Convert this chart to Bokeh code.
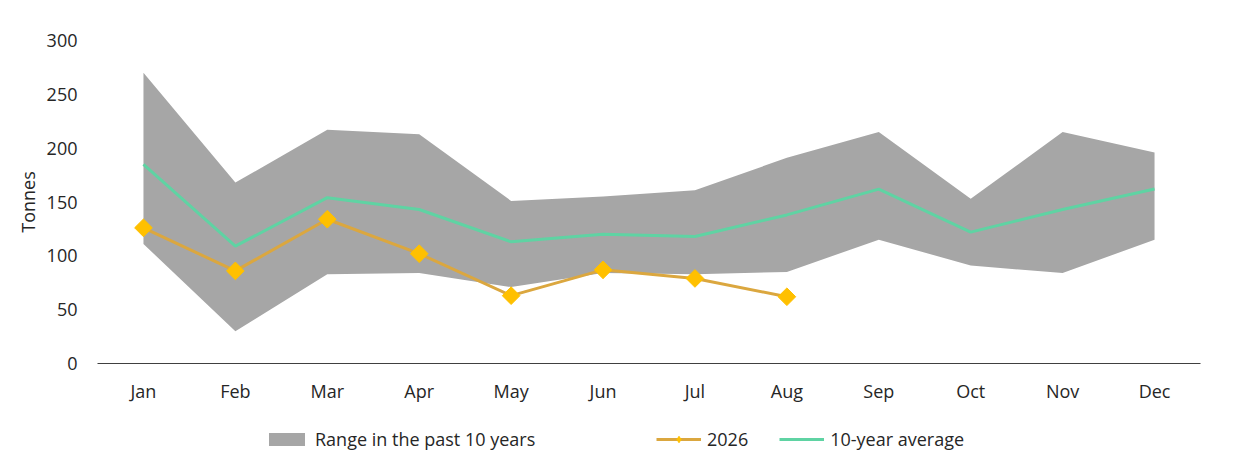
from bokeh.plotting import figure
from bokeh.models import ColumnDataSource, Legend, LegendItem, FactorRange, Range1d
from bokeh.layouts import column
from bokeh.embed import file_html
from bokeh.resources import INLINE
import numpy as np

months = ["Jan", "Feb", "Mar", "Apr", "May", "Jun", "Jul", "Aug", "Sep", "Oct", "Nov", "Dec"]
range_upper = [270, 168, 217, 213, 151, 155, 161, 191, 215, 153, 215, 196]
range_lower = [111, 30, 83, 84, 71, 84, 83, 85, 115, 91, 84, 115]
avg10 = [185, 109, 154, 143, 113, 120, 118, 138, 162, 122, 143, 162]
months_2026 = months[:8]
vals_2026 = [126, 86, 134, 102, 63, 87, 79, 62]
y_ticks = [0, 50, 100, 150, 200, 250, 300]

FONT = "Open Sans"
TXT = "#262626"
FS = "18px"
GREY = "#a6a6a6"
GREEN = "#5fd3a3"
ORANGE_LINE = "#dba73f"
ORANGE_MARK = "#ffc000"

src = ColumnDataSource(dict(x=months, lo=range_lower, hi=range_upper, avg=avg10))
src26 = ColumnDataSource(dict(x=months_2026, y=vals_2026))

p = figure(width=1225, height=410, x_range=FactorRange(*months), y_range=(0, 300),
           output_backend="svg", toolbar_location=None,
           min_border_left=97, min_border_right=25, min_border_top=40, min_border_bottom=47)
p.frame_width = 1103
p.frame_height = 323

p.varea(x="x", y1="lo", y2="hi", source=src, fill_color=GREY)
p.line(x="x", y="avg", source=src, line_color=GREEN, line_width=3)
p.line(x="x", y="y", source=src26, line_color=ORANGE_LINE, line_width=3)
p.scatter(x="x", y="y", source=src26, marker="square", angle=np.pi / 4, size=12.5,
          fill_color=ORANGE_MARK, line_color=ORANGE_MARK)

p.grid.visible = False
p.outline_line_color = None

p.xaxis.axis_line_color = "#404040"
p.xaxis.axis_line_width = 1.2
p.xaxis.major_tick_line_color = None
p.xaxis.minor_tick_line_color = None
p.xaxis.major_label_standoff = 9
p.xaxis.major_label_text_font = FONT
p.xaxis.major_label_text_font_size = FS
p.xaxis.major_label_text_color = TXT

p.yaxis.ticker = y_ticks
p.yaxis.axis_line_color = None
p.yaxis.major_tick_line_color = None
p.yaxis.minor_tick_line_color = None
p.yaxis.major_label_standoff = 14
p.yaxis.major_label_text_font = FONT
p.yaxis.major_label_text_font_size = FS
p.yaxis.major_label_text_color = TXT
p.yaxis.axis_label = "Tonnes"
p.yaxis.axis_label_text_font = FONT
p.yaxis.axis_label_text_font_size = FS
p.yaxis.axis_label_text_font_style = "normal"
p.yaxis.axis_label_text_color = TXT
p.yaxis.axis_label_standoff = 4

# legend strip (its sample glyphs hold one point placed outside the visible range)
p2 = figure(width=1225, height=45, output_backend="svg", toolbar_location=None,
            x_axis_location=None, y_axis_location=None, min_border=0,
            x_range=Range1d(0, 1), y_range=Range1d(0, 1))
p2.grid.visible = False
p2.outline_line_color = None
e = ColumnDataSource(dict(x=[-10, -9], y=[-10, -10], y1=[-10, -10], y2=[-9, -9]))
g_area = p2.varea(x="x", y1="y1", y2="y2", source=e, fill_color=GREY)
g_l26 = p2.line(x="x", y="y", source=e, line_color=ORANGE_LINE, line_width=3)
g_m26 = p2.scatter(x="x", y="y", source=e, marker="diamond", size=8,
                   fill_color=ORANGE_MARK, line_color=ORANGE_MARK)
g_avg = p2.line(x="x", y="y", source=e, line_color=GREEN, line_width=3)

def mk_legend(items, loc, spacing=0):
    lg = Legend(items=items, location=loc, orientation="horizontal",
                padding=0, margin=0, spacing=spacing, border_line_color=None,
                background_fill_alpha=0, label_text_font=FONT,
                label_text_font_size=FS, label_text_color=TXT,
                glyph_width=45, glyph_height=16, label_standoff=6, label_height=18)
    p2.add_layout(lg, "center")

mk_legend([LegendItem(label="Range in the past 10 years", renderers=[g_area])], (167, 4))
mk_legend([LegendItem(label="2026", renderers=[g_l26, g_m26]),
           LegendItem(label="10-year average", renderers=[g_avg])], (559, 4), spacing=31)

open("out.html", "w").write(file_html(column(p, p2, spacing=0), INLINE))
